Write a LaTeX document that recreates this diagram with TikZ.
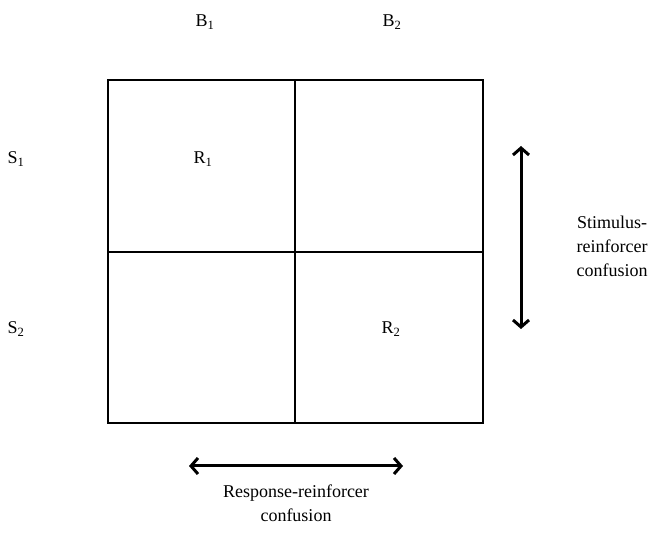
\documentclass[tikz,border=0pt]{standalone}
\usepackage{fontspec}
\setmainfont{Liberation Serif}
\usepackage{tikz}
\usetikzlibrary{arrows.meta,positioning}

\begin{document}
\begin{tikzpicture}[x=1pt, y=1pt,
  lbl/.style  = {font=\fontsize{18}{24}\selectfont, inner sep=0pt},
  note/.style = {lbl, align=center},
  grid/.style = {draw, line width=1.3pt},
  arr/.style  = {{Straight Barb[length=7pt,width=16pt,line width=3pt]}-{Straight Barb[length=7pt,width=16pt,line width=3pt]},
                 line width=3pt}
]
\useasboundingbox (0,0) rectangle (652,545);

% ,  Contingency table ,
\coordinate (nw) at (108,465);
\coordinate (se) at (483,122);
\coordinate (tm) at (295,465);
\coordinate (bm) at (295,122);
\coordinate (lm) at (108,293);
\coordinate (rm) at (483,293);
\draw[grid] (nw) rectangle (se);
\draw[grid] (tm) -- (bm);
\draw[grid] (lm) -- (rm);

% ,  Column and row labels ,
\node[lbl] (b1) at (205,523) {B\textsubscript{1}};
\node[lbl] (b2) at (392,523) {B\textsubscript{2}};
\node[lbl] (s1) at (16,386)  {S\textsubscript{1}};
\node[lbl] (s2) at (16,216)  {S\textsubscript{2}};

% ,  Reinforcers in the cells ,
\node[lbl] (r1) at (203,386) {R\textsubscript{1}};
\node[lbl] (r2) at (391,216) {R\textsubscript{2}};

% ,  Confusion arrows ,
\coordinate (vtop) at (521,399);
\coordinate (vbot) at (521,216);
\coordinate (hlft) at (189,79);
\coordinate (hrgt) at (403,79);
\draw[arr] (vtop) -- (vbot);
\draw[arr] (hlft) -- (hrgt);

\node[note] (stim) at (612,299) {Stimulus-\\reinforcer\\confusion};
\node[note] (resp) at (296,42)  {Response-reinforcer\\confusion};

\end{tikzpicture}
\end{document}
